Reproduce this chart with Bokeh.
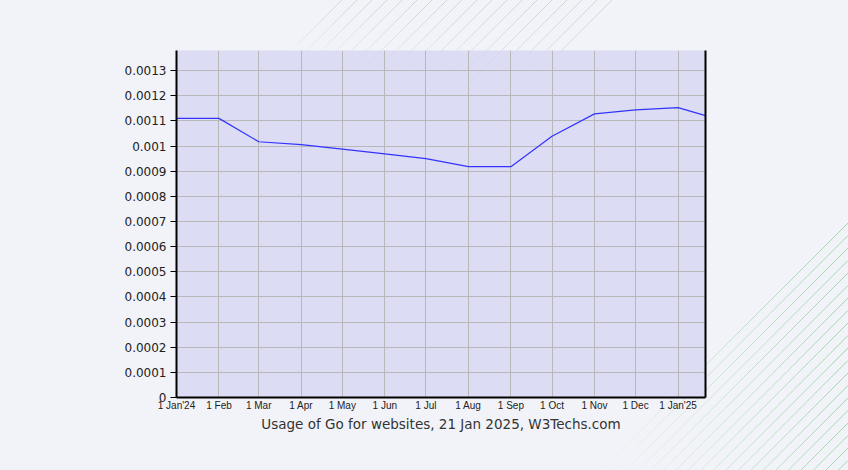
from datetime import datetime
from urllib.parse import quote
from bokeh.plotting import figure
from bokeh.models import (Range1d, FixedTicker, CustomJSTickFormatter, LinearAxis)
from bokeh.embed import file_html
from bokeh.resources import INLINE

dates = ["2024-01-01", "2024-02-01", "2024-03-01", "2024-04-01", "2024-05-01",
         "2024-06-01", "2024-07-01", "2024-08-01", "2024-09-01", "2024-10-01",
         "2024-11-01", "2024-12-01", "2025-01-01", "2025-01-21"]
usage = [0.00111, 0.00111, 0.001017, 0.001006, 0.000988, 0.000969, 0.00095,
         0.000918, 0.000918, 0.001039, 0.001128, 0.001144, 0.001153, 0.001121]
tick_dates = ["2024-01-01", "2024-02-01", "2024-03-01", "2024-04-01", "2024-05-01",
              "2024-06-01", "2024-07-01", "2024-08-01", "2024-09-01", "2024-10-01",
              "2024-11-01", "2024-12-01", "2025-01-01"]
tick_labels = ["1 Jan'24", "1 Feb", "1 Mar", "1 Apr", "1 May", "1 Jun", "1 Jul",
               "1 Aug", "1 Sep", "1 Oct", "1 Nov", "1 Dec", "1 Jan'25"]
y_ticks = [i * 0.0001 for i in range(14)]
title = "Usage of Go for websites, 21 Jan 2025, W3Techs.com"

def ms(s):
    return datetime.strptime(s, "%Y-%m-%d").timestamp() * 1000.0

xs = [datetime.strptime(d, "%Y-%m-%d") for d in dates]
x_ticks = [ms(d) for d in tick_dates]

BG = "#f2f3f8"
p = figure(width=840, height=462, x_axis_type="datetime",
           x_range=Range1d(ms("2024-01-01"), ms("2025-01-21")),
           y_range=Range1d(0, 0.00138),
           output_backend="svg", toolbar_location=None,
           min_border_left=176, min_border_right=135,
           min_border_top=50, min_border_bottom=65)
p.background_fill_color = "#d6d6f3"
p.background_fill_alpha = 0.8
p.border_fill_color = BG
p.border_fill_alpha = 0
p.outline_line_color = None

p.line(xs, usage, line_color="#3333ff", line_width=1.2)

# x axis
xa = p.xaxis[0]
xa.ticker = FixedTicker(ticks=x_ticks)
xa.major_label_overrides = {t: l for t, l in zip(x_ticks, tick_labels)}
xa.major_tick_out = 0
xa.major_tick_in = 0
xa.minor_tick_out = 0
xa.minor_tick_in = 0
xa.axis_line_color = "black"
xa.axis_line_width = 2
xa.major_label_text_font = "Liberation Sans"
xa.major_label_text_font_size = "10px"
xa.major_label_text_color = "#222222"
xa.major_label_standoff = 2
xa.axis_label = title
xa.axis_label_text_font = "DejaVu Sans"
xa.axis_label_text_font_size = "13.5px"
xa.axis_label_text_font_style = "normal"
xa.axis_label_text_color = "#333333"
xa.axis_label_standoff = 2

# y axis
ya = p.yaxis[0]
ya.ticker = FixedTicker(ticks=y_ticks)
ya.formatter = CustomJSTickFormatter(code="return parseFloat(tick.toFixed(4)).toString();")
ya.major_tick_out = 6
ya.major_tick_in = 0
ya.minor_tick_out = 0
ya.minor_tick_in = 0
ya.major_tick_line_color = "black"
ya.axis_line_color = "black"
ya.axis_line_width = 2
ya.major_label_text_font = "DejaVu Sans"
ya.major_label_text_font_size = "12px"
ya.major_label_text_color = "#222222"
ya.major_label_standoff = 4

# right border
ra = LinearAxis(major_tick_out=0, major_tick_in=0, minor_tick_out=0, minor_tick_in=0,
                major_label_text_font_size="0px", axis_line_color="black",
                axis_line_width=2)
ra.ticker = FixedTicker(ticks=[])
p.add_layout(ra, "right")

p.xgrid.ticker = FixedTicker(ticks=x_ticks)
p.xgrid.grid_line_color = "#b8b8b8"
p.ygrid.grid_line_color = "#b8b8b8"

# decorative page background (faint diagonal strokes)
parts = ['<svg xmlns="http://www.w3.org/2000/svg" width="848" height="470">',
         '<defs>',
         '<linearGradient id="g" x1="1" y1="0" x2="0" y2="1">'
         '<stop offset="0" stop-color="#7fcf8f" stop-opacity="0.75"/>'
         '<stop offset="1" stop-color="#7fcf8f" stop-opacity="0"/></linearGradient>',
         '<linearGradient id="t" x1="1" y1="0" x2="0" y2="1">'
         '<stop offset="0" stop-color="#9fb8a8" stop-opacity="0.45"/>'
         '<stop offset="1" stop-color="#9aa0b0" stop-opacity="0"/></linearGradient>',
         '</defs>']
for i in range(20):
    y0 = 223 + 12.5 * i
    L = 250 - 4 * i
    parts.append('<line x1="848" y1="%.1f" x2="%.1f" y2="%.1f" stroke="url(#g)" stroke-width="1"/>'
                 % (y0, 848 - L, y0 + L))
for i in range(19):
    x0 = 612 - 15 * i
    L = 150 - 5 * i
    parts.append('<line x1="%.1f" y1="0" x2="%.1f" y2="%.1f" stroke="url(#t)" stroke-width="1"/>'
                 % (x0, x0 - L, L))
parts.append('</svg>')
bg_uri = "data:image/svg+xml;charset=utf-8," + quote("".join(parts))

html = file_html(p, INLINE)
html = html.replace(
    "<body>",
    "<body style=\"margin:0;background-color:%s;background-image:url('%s');"
    "background-repeat:no-repeat;background-position:0 0\">" % (BG, bg_uri))
open("out.html", "w").write(html)
